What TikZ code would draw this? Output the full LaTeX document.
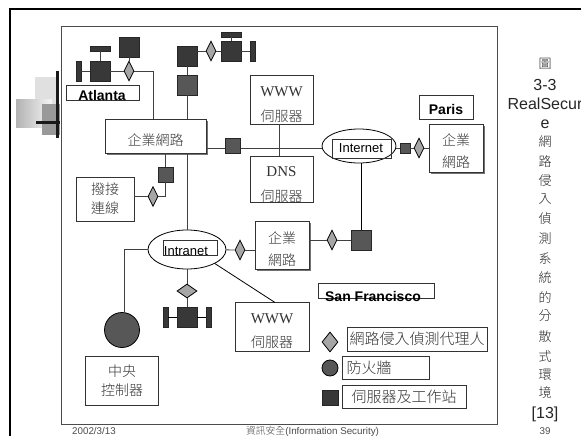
\documentclass[tikz,border=0pt]{standalone}
\usepackage{fontspec}
\usepackage{xcolor}
\setmainfont{Liberation Sans}
\newfontfamily\cjk{Noto Sans CJK TC Light}[BoldFont={Noto Sans CJK TC Light}]
\newfontfamily\serifwww{Liberation Serif}
\newcommand{\lowa}{\rule{0pt}{18pt}}
\newcommand{\lowb}{\rule{0pt}{20pt}}
\usetikzlibrary{positioning,calc,shapes.geometric,shadows}

\begin{document}
\begin{tikzpicture}[x=1pt, y=-1pt, line width=0.8pt,
  box/.style={draw=black!80, fill=white, inner sep=0pt, align=center, font=\cjk\fontsize{14}{22}\selectfont, text=black!80},
  corp/.style={box, drop shadow={shadow xshift=1.5pt, shadow yshift=-1.5pt, fill=black!55, opacity=1}},
  tag/.style={draw=black!80, inner sep=0pt},
  lbl/.style={inner sep=0pt, font=\fontsize{13}{15}\selectfont},
  city/.style={inner sep=0pt, font=\bfseries\fontsize{14}{16}\selectfont},
  serv/.style={draw=black!85, fill=black!78, inner sep=0pt, minimum width=20pt, minimum height=20pt},
  host/.style={draw=black!85, fill=black!66, inner sep=0pt, minimum width=20pt, minimum height=20pt},
  slab/.style={draw=black!85, fill=black!78, inner sep=0pt},
  probe/.style={diamond, aspect=1, draw=black, fill=black!35, inner sep=0pt, minimum width=10pt, minimum height=20pt},
  net/.style={ellipse, draw=black, inner sep=0pt},
  capl/.style={inner sep=0pt, font=\fontsize{16}{18}\selectfont, text=black!85},
  capz/.style={inner sep=0pt, font=\cjk\fontsize{13}{15}\selectfont, text=black!85},
  foot/.style={inner sep=0pt, font=\fontsize{9.8}{11}\selectfont, text=black!70},
  wire/.style={draw=black!75}]
\useasboundingbox (0,0) rectangle (581,436);
\fill[white] (0,0) rectangle (581,436);
% slide decoration
\fill[black!12] (35,77) rectangle (57,108);
\shade[left color=black!30, right color=black!4] (16,99) rectangle (52,127);
\fill[black!40] (42,104) rectangle (60,135);
\draw[line width=2.6pt, black!90] (57.5,71) -- (57.5,138);
\draw[line width=2.6pt, black!90] (36,122.5) -- (60,122.5);
\draw[line width=2pt] (10,436) -- (10,9.5) -- (581,9.5);
\draw[line width=1pt, black!70] (61,27) rectangle (497,424);

% Atlanta
\node[serv] (atlsrv) at (100,71) {};
\node[slab, minimum width=20pt, minimum height=5pt] (atltop) at (100,48.5) {};
\node[slab, minimum width=5pt, minimum height=20pt] (atlend) at (78.5,71) {};
\node[probe] (atlprobe) at (129,71) {};
\node[serv] (atlws) at (129.5,47) {};
\node[tag, minimum width=73pt, minimum height=15pt] (atltag) at (102.5,92.5) {};
\node[city] (atlname) at (102,95) {Atlanta};
% headquarters
\node[corp, minimum width=101pt, minimum height=34pt] (corpa) at (155.5,136) {\lowb 企業網路};
\node[serv] (hqsrv) at (187,56) {};
\node[host] (hqwall) at (187,85) {};
\node[probe] (hqprobe) at (211,51) {};
\node[serv] (hqws) at (231,51) {};
\node[slab, minimum width=20pt, minimum height=5pt] (hqtop) at (231,34.5) {};
\node[slab, minimum width=5pt, minimum height=20pt] (hqend) at (252.5,51) {};
\node[box, minimum width=63pt, minimum height=49pt] (wwwa) at (281.5,99.5) {\lowb\serifwww\fontsize{15}{22}\selectfont WWW\\[3pt]伺服器};
\node[box, minimum width=63pt, minimum height=43pt] (dnsa) at (281.5,179.5) {\lowb\serifwww\fontsize{15}{22}\selectfont DNS\\[3pt]伺服器};
\node[host, minimum width=15pt, minimum height=15pt] (hqlink) at (233,145.5) {};
\node[net, minimum width=74pt, minimum height=34pt] (inet) at (359,146) {};
\node[tag, minimum width=59pt, minimum height=19pt] (inettag) at (361.5,148.5) {};
\node[lbl] (inetname) at (361,148) {Internet};
% dial-up
\node[host, minimum width=15pt, minimum height=15pt] (dialsrv) at (165.5,174.5) {};
\node[probe] (dialprobe) at (153,196.5) {};
\node[box, minimum width=58pt, minimum height=44pt] (dial) at (105,199) {撥接\\[-3pt]連線};
% Paris
\node[host, minimum width=10pt, minimum height=10pt] (parwall) at (405,148) {};
\node[probe] (parprobe) at (419,148) {};
\node[tag, minimum width=54pt, minimum height=24pt] (partag) at (446,107) {};
\node[city] (parname) at (446,109) {Paris};
\node[corp, minimum width=54pt, minimum height=48pt] (corpb) at (456,148) {\lowa 企業\\網路};
% intranet
\node[net, minimum width=78pt, minimum height=39pt] (inner) at (187,249.5) {};
\node[tag, minimum width=54pt, minimum height=15pt] (innertag) at (190,247.5) {};
\node[lbl] (innername) at (186,251) {Intranet};
\node[probe] (sfprobe) at (240,250) {};
\node[corp, minimum width=54pt, minimum height=48pt] (corpc) at (282,245.5) {\lowb 企業\\網路};
\node[probe] (sfprobeb) at (332,240) {};
\node[host] (sfwall) at (361.5,240) {};
\node[probe, minimum width=20pt, minimum height=14pt] (inprobe) at (187,291) {};
\node[serv] (insrv) at (187,317) {};
\node[slab, minimum width=5pt, minimum height=20pt] (inl) at (165.5,317) {};
\node[slab, minimum width=5pt, minimum height=20pt] (inr) at (209,317) {};
\node[box, minimum width=74pt, minimum height=49pt] (wwwb) at (272,327) {\lowa\serifwww\fontsize{15}{22}\selectfont WWW\\[2pt]伺服器};
\node[circle, draw=black, fill=black!66, inner sep=0pt, minimum size=35pt] (ctrl) at (122,330) {};
\node[box, minimum width=73pt, minimum height=49pt] (center) at (122,380.5) {中央\\[-3pt]控制器};
% San Francisco
\node[tag, minimum width=116pt, minimum height=15pt] (sftag) at (376,291) {};
\node[city] (sfname) at (373,296) {San Francisco};
% legend
\node[probe, minimum width=16pt, minimum height=20pt] (keyprobe) at (330,342) {};
\node[box, minimum width=140pt, minimum height=24pt] (keya) at (417,339) {\fontsize{15}{17}\selectfont 網路侵入偵測代理人};
\node[circle, draw=black, fill=black!66, inner sep=0pt, minimum size=16pt] (keywall) at (330,368) {};
\node[box, minimum width=87pt, minimum height=23pt] (keyb) at (385.5,367.5) {};
\node[inner sep=0pt, font=\cjk\fontsize{15}{17}\selectfont, text=black!80] (keybname) at (369,368) {防火牆};
\node[serv, minimum width=16pt, minimum height=15pt] (keysrv) at (330,397.5) {};
\node[box, minimum width=124pt, minimum height=23pt] (keyc) at (404,396.5) {\fontsize{15}{17}\selectfont 伺服器及工作站};
\coordinate (wwwbin) at (275,302.5);
\coordinate (atlbend) at (153,71);
\coordinate (innerbend) at (124,249.5);

% connectors
\draw[wire] (atlend) -- (atlsrv);
\draw[wire] (atltop) -- (atlsrv);
\draw[wire] (atlsrv) -- (atlprobe);
\draw[wire] (atlws.south -| atlprobe) -- (atlprobe);
\draw[wire] (atlprobe.east) -- (atlbend) -- (atlbend |- corpa.north);
\draw[wire] (hqsrv) -- (hqwall);
\draw[wire] (hqwall.south) -- (corpa.north -| hqwall);
\draw[wire] (hqsrv.east |- hqprobe) -- (hqprobe);
\draw[wire] (hqprobe) -- (hqws);
\draw[wire] (hqtop) -- (hqws);
\draw[wire] (hqws) -- (hqend);
\draw[wire] ([xshift=-2.5pt]wwwa.south) -- ([xshift=-2.5pt]dnsa.north);
\draw[wire] (corpa.east |- inettag) -- (hqlink.west |- inettag);
\draw[wire] (hqlink.east |- inettag) -- (inet.west |- inettag);
\draw[wire] (inet.east |- parwall) -- (parwall);
\draw[wire] (parwall) -- (parprobe);
\draw[wire] (parprobe) -- (corpb);
\draw[draw=black] (inet.south -| inettag) -- (sfwall);
\draw[wire] (corpc.east |- sfprobeb) -- (sfprobeb);
\draw[wire] (sfprobeb) -- (sfwall);
\draw[wire] (corpa.south -| dialsrv) -- (dialsrv.north);
\draw[wire] (dialsrv.south) -- (dialsrv.south |- dialprobe) -- (dialprobe);
\draw[wire] (dialprobe) -- (dial.east |- dialprobe);
\draw[wire] (corpa.south -| inner) -- (inner);
\draw[wire] (inner.west) -- (innerbend) -- (innerbend |- ctrl.north);
\draw[wire] (inner) -- (sfprobe);
\draw[wire] (sfprobe) -- (corpc.west |- sfprobe);
\draw[wire] (inner) -- (inprobe);
\draw[wire] (inprobe) -- (insrv);
\draw[draw=black] (inl) -- (insrv);
\draw[draw=black] (insrv) -- (inr);
\draw[draw=black] (inner.south east) -- (wwwbin);

% caption
\node[capz] (capa) at (545,64) {圖};
\node[capl] (capb) at (545,85) {3-3};
\node[capl] (capc) at (545,104) {RealSecur};
\node[capl] (capd) at (545,124) {e};
\foreach \ch/\yy in {網/142,路/162,侵/181,入/199,偵/219,測/239,系/259,統/278,的/297,分/316,散/337,式/357,環/375,境/393}
  \node[capz] (cap\yy) at (545,\yy) {\ch};
\node[capl] (cape) at (545,414) {[13]};
% footer
\node[foot] (footdate) at (94,431) {2002/3/13};
\node[foot] (foottitle) at (312.5,431) {{\cjk 資訊安全}(Information Security)};
\node[foot] (footpage) at (545,431) {39};
\end{tikzpicture}
\end{document}
